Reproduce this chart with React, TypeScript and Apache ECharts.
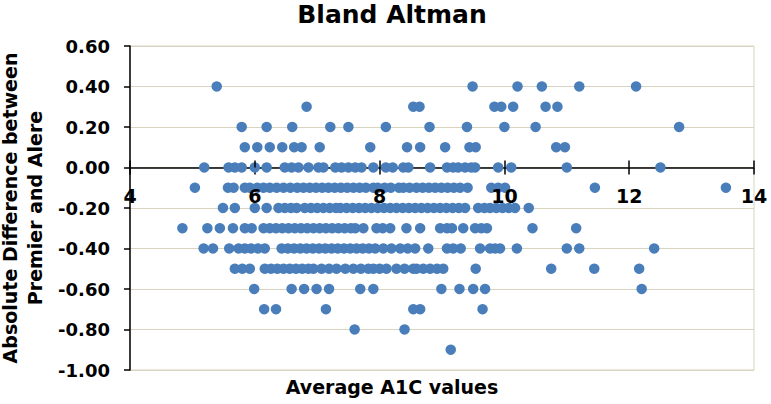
import React, { useEffect, useRef } from "react";
import * as echarts from "echarts";

// Difference rows (y values) and the A1C averages (x values) of the points on each row
const ROW_VALUES = [0.4, 0.3, 0.2, 0.1, 0.0, -0.1, -0.2, -0.3, -0.4, -0.5, -0.6, -0.7, -0.8, -0.9];

const rowP04 = [5.39, 9.49, 10.21, 10.6, 11.2, 12.11];
const rowP03 = [6.83, 8.54, 8.64, 9.84, 9.95, 10.14, 10.66, 10.85];
const rowP02 = [5.79, 6.19, 6.6, 7.21, 7.5, 8.1, 8.8, 9.4, 10.0, 10.5, 12.8];
const rowP01 = [5.84, 6.04, 6.24, 6.44, 6.63, 6.75, 7.04, 7.85, 8.44, 8.65, 9.05, 9.44, 9.54, 10.83, 10.97];
const row000 = [5.19, 5.58, 5.68, 5.79, 6.0, 6.19, 6.48, 6.59, 6.7, 6.86, 7.02, 7.1, 7.29, 7.39, 7.5, 7.61, 7.71, 7.9, 8.1, 8.21, 8.38, 8.46, 8.81, 9.08, 9.18, 9.26, 9.37, 9.47, 9.53, 9.9, 10.11, 11.0, 12.5];
const rowM01 = [5.04, 5.57, 5.66, 5.84, 5.92, 6.04, 6.14, 6.24, 6.35, 6.46, 6.57, 6.68, 6.78, 6.88, 6.98, 7.08, 7.18, 7.28, 7.38, 7.48, 7.58, 7.68, 7.78, 7.9, 7.97, 8.08, 8.18, 8.31, 8.38, 8.48, 8.59, 8.69, 8.79, 8.89, 8.99, 9.09, 9.19, 9.29, 9.41, 9.79, 9.9, 10.01, 11.45, 13.55];
const rowM02 = [5.49, 5.68, 6.0, 6.19, 6.38, 6.48, 6.58, 6.67, 6.8, 6.9, 7.0, 7.1, 7.2, 7.3, 7.37, 7.47, 7.57, 7.67, 7.77, 7.87, 7.97, 8.07, 8.17, 8.27, 8.37, 8.47, 8.57, 8.67, 8.77, 8.87, 8.97, 9.07, 9.17, 9.27, 9.37, 9.58, 9.68, 9.77, 9.87, 9.97, 10.07, 10.17, 10.39];
const rowM03 = [4.84, 5.24, 5.44, 5.65, 5.84, 5.95, 6.14, 6.24, 6.34, 6.44, 6.54, 6.64, 6.74, 6.84, 6.94, 7.04, 7.14, 7.24, 7.34, 7.44, 7.54, 7.61, 7.74, 7.95, 8.05, 8.17, 8.43, 8.65, 8.97, 9.08, 9.16, 9.34, 9.53, 9.63, 9.72, 10.45, 11.15];
const rowM04 = [5.18, 5.33, 5.59, 5.74, 5.84, 5.94, 6.05, 6.16, 6.43, 6.53, 6.63, 6.73, 6.83, 6.93, 7.03, 7.13, 7.23, 7.33, 7.43, 7.53, 7.63, 7.73, 7.83, 7.93, 8.06, 8.19, 8.33, 8.45, 8.57, 8.78, 9.08, 9.18, 9.3, 9.61, 9.77, 9.85, 9.93, 10.2, 11.0, 11.2, 12.4];
const rowM05 = [5.68, 5.8, 5.92, 6.16, 6.26, 6.36, 6.46, 6.56, 6.66, 6.76, 6.86, 6.94, 7.07, 7.19, 7.31, 7.45, 7.58, 7.7, 7.82, 7.9, 8.0, 8.11, 8.27, 8.4, 8.54, 8.59, 8.7, 8.81, 8.92, 9.02, 9.54, 10.75, 11.44, 12.16];
const rowM06 = [5.99, 6.59, 6.79, 6.99, 7.19, 7.69, 7.9, 8.99, 9.28, 9.5, 9.69, 12.2];
const rowM07 = [6.15, 6.34, 7.14, 8.54, 8.65, 9.65];
const rowM08 = [7.6, 8.4];
const rowM09 = [9.14];

const ROWS = [rowP04, rowP03, rowP02, rowP01, row000, rowM01, rowM02, rowM03, rowM04, rowM05, rowM06, rowM07, rowM08, rowM09];

const TITLE = "Bland Altman";
const X_NAME = "Average A1C values";
const Y_NAME = "Absolute Difference between\nPremier and Alere";

const X_MIN = 4;
const X_MAX = 14;
const X_STEP = 2;
const Y_MIN = -1;
const Y_MAX = 0.6;
const Y_STEP = 0.2;

const FONT = "DejaVu Sans";

export default function App() {
  const ref = useRef<HTMLDivElement>(null);

  useEffect(() => {
    if (!ref.current) return;
    const chart = echarts.init(ref.current, undefined, { renderer: "svg" });

    const data: number[][] = [];
    ROWS.forEach((row, i) => {
      row.forEach((x) => data.push([x, ROW_VALUES[i]]));
    });

    const gridTop = 46;
    const gridBottom = 34;
    const gridHeight = 404 - gridTop - gridBottom;
    // pixel distance of the zero line from the grid's top and bottom edges
    const zeroFromTop = (Y_MAX / (Y_MAX - Y_MIN)) * gridHeight;
    const zeroFromBottom = gridHeight - zeroFromTop;

    const xCommon = {
      type: "value",
      min: X_MIN,
      max: X_MAX,
      interval: X_STEP,
      splitLine: { show: false },
    };

    chart.setOption({
      animation: false,
      backgroundColor: "#ffffff",
      title: [
        {
          text: TITLE,
          left: 392,
          top: 2,
          padding: 0,
          textAlign: "center",
          textStyle: { fontFamily: FONT, fontWeight: "bold", fontSize: 25, color: "#000" },
        },
        {
          text: X_NAME,
          left: 392,
          top: 377,
          padding: 0,
          textAlign: "center",
          textStyle: { fontFamily: FONT, fontWeight: "bold", fontSize: 19, color: "#000" },
        },
      ],
      grid: {
        left: 130,
        right: 17,
        top: gridTop,
        bottom: gridBottom,
        show: true,
        borderColor: "#d9d4c0",
        borderWidth: 1,
        containLabel: false,
        outerBoundsMode: "none",
      },
      xAxis: [
        {
          ...xCommon,
          position: "bottom",
          offset: -zeroFromBottom,
          axisLine: { show: true, onZero: false, lineStyle: { color: "#000", width: 1.5 } },
          axisTick: { show: true, inside: false, length: 7, lineStyle: { color: "#000", width: 1.5 } },
          axisLabel: { show: false },
        },
        {
          ...xCommon,
          position: "top",
          offset: -zeroFromTop,
          z: 5,
          axisLine: { show: true, onZero: false, lineStyle: { color: "#000", opacity: 0 } },
          axisTick: { show: true, inside: false, length: 7, lineStyle: { color: "#000", width: 1.5 } },
          axisLabel: {
            show: true,
            inside: true,
            margin: 19,
            color: "#000",
            fontFamily: FONT,
            fontWeight: "bold",
            fontSize: 19,
          },
        },
      ],
      yAxis: {
        type: "value",
        min: Y_MIN,
        max: Y_MAX,
        interval: Y_STEP,
        name: Y_NAME,
        nameLocation: "middle",
        nameRotate: 90,
        nameGap: 80,
        nameTextStyle: {
          fontFamily: FONT,
          fontWeight: "bold",
          fontSize: 19,
          lineHeight: 25,
          color: "#000",
        },
        axisLine: { show: true, onZero: false, lineStyle: { color: "#000", width: 1.5 } },
        axisTick: { show: true, length: 6, lineStyle: { color: "#000", width: 1.5 } },
        axisLabel: {
          margin: 20,
          color: "#000",
          fontFamily: FONT,
          fontWeight: "bold",
          fontSize: 18,
          formatter: (v: number) => v.toFixed(2),
        },
        splitLine: { show: true, lineStyle: { color: "#d9d4c0", width: 1 } },
      },
      series: [
        {
          type: "scatter",
          xAxisIndex: 0,
          yAxisIndex: 0,
          data,
          symbol: "circle",
          symbolSize: 10.5,
          itemStyle: { color: "#4a7ebb", opacity: 1 },
        },
      ],
    });

    return () => chart.dispose();
  }, []);

  return <div ref={ref} style={{ width: 771, height: 404, position: "absolute", left: 0, top: 0 }} />;
}
